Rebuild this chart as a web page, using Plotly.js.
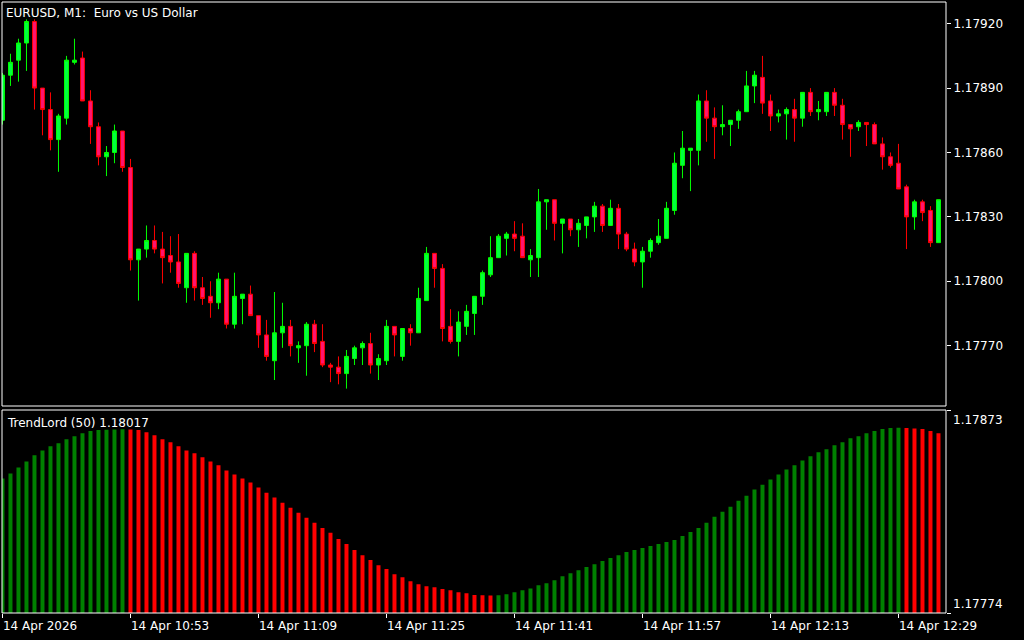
<!DOCTYPE html>
<html><head><meta charset="utf-8">
<script src="https://cdn.plot.ly/plotly-3.0.1.min.js"></script>
<style>html,body{margin:0;padding:0;background:#000;}#chart{width:1024px;height:640px;}</style>
</head><body><div id="chart"></div>
<script>
const symbolTitle = 'EURUSD, M1:  Euro vs US Dollar';
const indicatorTitle = 'TrendLord (50) 1.18017';

// one-minute bars, 14 Apr 2026, 10:37 .. 12:34
const startMinute = 10 * 60 + 37;
const candleCount = 118;
const times = [];
for (let i = 0; i < candleCount; i++) {
  const m = startMinute + i;
  times.push(String(Math.floor(m / 60)).padStart(2, '0') + ':' + String(m % 60).padStart(2, '0'));
}

const open = [1.17875,1.17896,1.17903,1.17911,1.17921,1.17890,1.17880,1.17866,1.17876,1.17902,
1.17904,1.17884,1.17872,1.17858,1.17860,1.17870,1.17853,1.17810,1.17815,1.17819,
1.17815,1.17812,1.17809,1.17797,1.17813,1.17797,1.17793,1.17790,1.17801,1.17780,
1.17792,1.17794,1.17784,1.17775,1.17763,1.17776,1.17779,1.17769,1.17770,1.17780,
1.17772,1.17761,1.17760,1.17757,1.17764,1.17769,1.17771,1.17761,1.17763,1.17779,
1.17765,1.17778,1.17776,1.17791,1.17813,1.17806,1.17779,1.17772,1.17779,1.17785,
1.17793,1.17803,1.17811,1.17820,1.17822,1.17821,1.17810,1.17811,1.17837,1.17838,
1.17827,1.17829,1.17824,1.17826,1.17830,1.17835,1.17826,1.17834,1.17822,1.17815,
1.17809,1.17814,1.17818,1.17820,1.17833,1.17854,1.17861,1.17861,1.17884,1.17876,
1.17872,1.17873,1.17875,1.17879,1.17891,1.17895,1.17884,1.17877,1.17878,1.17880,
1.17876,1.17888,1.17879,1.17879,1.17888,1.17882,1.17873,1.17872,1.17874,1.17873,
1.17864,1.17858,1.17855,1.17844,1.17830,1.17837,1.17833,1.17818];

const high = [1.17897,1.17906,1.17913,1.17922,1.17922,1.17890,1.17888,1.17878,1.17905,1.17913,
1.17907,1.17889,1.17874,1.17863,1.17873,1.17870,1.17857,1.17815,1.17826,1.17826,
1.17823,1.17821,1.17822,1.17813,1.17814,1.17802,1.17800,1.17804,1.17801,1.17804,
1.17794,1.17798,1.17784,1.17782,1.17795,1.17790,1.17782,1.17772,1.17781,1.17782,
1.17780,1.17762,1.17765,1.17768,1.17770,1.17772,1.17776,1.17766,1.17782,1.17779,
1.17778,1.17780,1.17797,1.17816,1.17813,1.17808,1.17787,1.17786,1.17789,1.17793,
1.17805,1.17821,1.17822,1.17823,1.17828,1.17827,1.17815,1.17843,1.17838,1.17838,
1.17829,1.17829,1.17829,1.17830,1.17837,1.17836,1.17838,1.17836,1.17823,1.17818,
1.17816,1.17820,1.17829,1.17837,1.17860,1.17870,1.17862,1.17887,1.17889,1.17881,
1.17882,1.17875,1.17880,1.17898,1.17898,1.17905,1.17887,1.17880,1.17881,1.17885,
1.17888,1.17890,1.17884,1.17888,1.17890,1.17885,1.17873,1.17875,1.17874,1.17874,
1.17867,1.17860,1.17864,1.17845,1.17838,1.17838,1.17835,1.17838];

const low = [1.17873,1.17891,1.17893,1.17898,1.17880,1.17868,1.17861,1.17851,1.17873,1.17901,
1.17884,1.17864,1.17854,1.17849,1.17855,1.17851,1.17805,1.17791,1.17811,1.17813,
1.17799,1.17804,1.17797,1.17790,1.17791,1.17789,1.17783,1.17787,1.17778,1.17778,
1.17780,1.17784,1.17769,1.17763,1.17754,1.17769,1.17765,1.17762,1.17756,1.17767,
1.17760,1.17753,1.17752,1.17750,1.17761,1.17761,1.17757,1.17754,1.17761,1.17765,
1.17763,1.17770,1.17776,1.17791,1.17797,1.17772,1.17771,1.17765,1.17775,1.17775,
1.17789,1.17802,1.17811,1.17812,1.17814,1.17811,1.17802,1.17802,1.17824,1.17819,
1.17813,1.17821,1.17816,1.17820,1.17823,1.17823,1.17826,1.17815,1.17814,1.17807,
1.17797,1.17811,1.17817,1.17820,1.17831,1.17848,1.17842,1.17854,1.17865,1.17857,
1.17868,1.17863,1.17871,1.17879,1.17883,1.17878,1.17870,1.17874,1.17866,1.17865,
1.17872,1.17877,1.17875,1.17877,1.17877,1.17866,1.17858,1.17870,1.17863,1.17864,
1.17852,1.17853,1.17843,1.17815,1.17824,1.17828,1.17816,1.17818];

const close = [1.17896,1.17902,1.17911,1.17921,1.17890,1.17880,1.17866,1.17877,1.17903,1.17903,
1.17884,1.17872,1.17858,1.17860,1.17870,1.17853,1.17810,1.17815,1.17819,1.17815,
1.17811,1.17809,1.17799,1.17813,1.17797,1.17792,1.17790,1.17801,1.17780,1.17793,
1.17794,1.17784,1.17775,1.17765,1.17776,1.17779,1.17770,1.17770,1.17780,1.17771,
1.17761,1.17760,1.17757,1.17765,1.17769,1.17771,1.17761,1.17764,1.17779,1.17775,
1.17778,1.17776,1.17792,1.17813,1.17806,1.17778,1.17772,1.17781,1.17786,1.17793,
1.17804,1.17811,1.17821,1.17822,1.17820,1.17811,1.17812,1.17837,1.17838,1.17827,
1.17829,1.17824,1.17827,1.17830,1.17835,1.17826,1.17834,1.17822,1.17815,1.17809,
1.17814,1.17819,1.17821,1.17834,1.17855,1.17862,1.17862,1.17884,1.17876,1.17872,
1.17873,1.17875,1.17879,1.17891,1.17896,1.17883,1.17877,1.17878,1.17880,1.17876,
1.17888,1.17879,1.17880,1.17888,1.17882,1.17873,1.17871,1.17874,1.17873,1.17864,
1.17858,1.17854,1.17843,1.17830,1.17837,1.17832,1.17818,1.17838];

// TrendLord (50) histogram values
const trendLord = [1.178396,1.178420,1.178450,1.178479,1.178509,1.178533,1.178553,1.178568,1.178587,1.178602,
1.178617,1.178627,1.178632,1.178634,1.178635,1.178636,1.178635,1.178633,1.178622,1.178607,
1.178587,1.178573,1.178553,1.178533,1.178519,1.178499,1.178479,1.178460,1.178435,1.178416,
1.178396,1.178376,1.178352,1.178327,1.178303,1.178278,1.178253,1.178229,1.178204,1.178180,
1.178155,1.178131,1.178101,1.178077,1.178047,1.178022,1.177998,1.177973,1.177954,1.177929,
1.177914,1.177895,1.177880,1.177870,1.177865,1.177857,1.177851,1.177841,1.177836,1.177828,
1.177826,1.177825,1.177826,1.177831,1.177841,1.177851,1.177860,1.177875,1.177885,1.177900,
1.177919,1.177934,1.177949,1.177964,1.177978,1.177993,1.178008,1.178022,1.178037,1.178047,
1.178057,1.178067,1.178077,1.178086,1.178096,1.178116,1.178135,1.178155,1.178180,1.178209,
1.178234,1.178258,1.178288,1.178312,1.178342,1.178366,1.178391,1.178416,1.178440,1.178460,
1.178484,1.178504,1.178524,1.178538,1.178558,1.178573,1.178592,1.178602,1.178617,1.178627,
1.178637,1.178642,1.178643,1.178642,1.178640,1.178637,1.178627,1.178617];
// trend state per bar: U = up (green), D = down (red)
const trendState = ('UUUUUUUUUUUUUUUU' +
  'DDDDDDDDDDDDDDDDDDDDDDDDDDDDDDDDDDDDDDDDDDDDDD' +
  'UUUUUUUUUUUUUUUUUUUUUUUUUUUUUUUUUUUUUUUUUUUUUUUUUUU' +
  'DDDDD').split('');

const timeTickVals = ['10:37','10:53','11:09','11:25','11:41','11:57','12:13','12:29'];
const timeTickText = ['14 Apr 2026','14 Apr 10:53','14 Apr 11:09','14 Apr 11:25','14 Apr 11:41','14 Apr 11:57','14 Apr 12:13','14 Apr 12:29'];
const priceTickVals = [1.17770,1.17800,1.17830,1.17860,1.17890,1.17920];
const priceTickText = ['1.17770','1.17800','1.17830','1.17860','1.17890','1.17920'];
const indRange = [1.17774, 1.17873];
const indRangeText = ['1.17774', '1.17873'];

const FONT = 'DejaVu Sans';
const candle = {
  type: 'candlestick', x: times, open: open, high: high, low: low, close: close,
  xaxis: 'x', yaxis: 'y',
  increasing: {line: {color: '#00ff00', width: 1}, fillcolor: '#00ff40'},
  decreasing: {line: {color: '#ff0000', width: 1}, fillcolor: '#ff1470'},
  whiskerwidth: 0, hoverinfo: 'skip'
};
const hist = {
  type: 'bar', x: times, y: trendLord, xaxis: 'x', yaxis: 'y2', width: 0.5,
  marker: {color: trendState.map(s => s === 'U' ? '#008000' : '#ff0000'), line: {width: 0}},
  hoverinfo: 'skip'
};

const topPx = 2, botPx = 613, plotH = botPx - topPx;
const frac = px => (botPx - px) / plotH;

const layout = {
  width: 1024, height: 640,
  paper_bgcolor: '#000000', plot_bgcolor: '#000000',
  margin: {l: 2, r: 78, t: topPx, b: 640 - botPx, pad: 0},
  showlegend: false,
  font: {family: FONT, size: 12, color: '#ffffff'},
  xaxis: {
    type: 'category', range: [-0.06, 117.94], anchor: 'y2',
    tickmode: 'array', tickvals: timeTickVals, ticktext: timeTickText,
    ticks: 'outside', ticklen: 4, tickcolor: '#ffffff', tickwidth: 1,
    ticklabelposition: 'outside right', ticklabelstandoff: 2,
    tickfont: {family: FONT, size: 12, color: '#ffffff'},
    showgrid: false, zeroline: false, showline: false,
    rangeslider: {visible: false}, fixedrange: true
  },
  yaxis: {
    domain: [frac(406), 1], side: 'right', range: [1.177419, 1.179301],
    tickmode: 'array', tickvals: priceTickVals, ticktext: priceTickText,
    ticks: 'outside', ticklen: 4, tickcolor: '#ffffff', tickwidth: 1,
    tickfont: {family: FONT, size: 12, color: '#ffffff'},
    showgrid: false, zeroline: false, showline: false, fixedrange: true
  },
  yaxis2: {
    domain: [0, frac(410)], side: 'right', range: indRange,
    tickmode: 'array', tickvals: indRange, showticklabels: false,
    ticks: 'outside', ticklen: 4, tickcolor: '#ffffff', tickwidth: 1,
    showgrid: false, zeroline: false, showline: false, fixedrange: true
  },
  shapes: [
    {type: 'rect', xref: 'paper', yref: 'paper', x0: 0, x1: 1, y0: frac(406), y1: 1,
     line: {color: '#ffffff', width: 1}, fillcolor: 'rgba(0,0,0,0)'},
    {type: 'rect', xref: 'paper', yref: 'paper', x0: 0, x1: 1, y0: 0, y1: frac(410),
     line: {color: '#ffffff', width: 1}, fillcolor: 'rgba(0,0,0,0)'}
  ],
  annotations: [
    {text: symbolTitle, xref: 'paper', yref: 'paper', x: 0, y: frac(13), xanchor: 'left', yanchor: 'middle',
     xshift: 2, showarrow: false, font: {family: FONT, size: 12, color: '#ffffff'}},
    {text: indicatorTitle, xref: 'paper', yref: 'paper', x: 0, y: frac(423), xanchor: 'left', yanchor: 'middle',
     xshift: 3, showarrow: false, font: {family: FONT, size: 12, color: '#ffffff'}},
    {text: indRangeText[1], xref: 'paper', yref: 'paper', x: 1, y: frac(420), xanchor: 'left', yanchor: 'middle',
     xshift: 5, showarrow: false, font: {family: FONT, size: 12, color: '#ffffff'}},
    {text: indRangeText[0], xref: 'paper', yref: 'paper', x: 1, y: frac(604), xanchor: 'left', yanchor: 'middle',
     xshift: 5, showarrow: false, font: {family: FONT, size: 12, color: '#ffffff'}}
  ]
};

Plotly.newPlot('chart', [hist, candle], layout, {staticPlot: true, displayModeBar: false});
</script>
</body></html>
